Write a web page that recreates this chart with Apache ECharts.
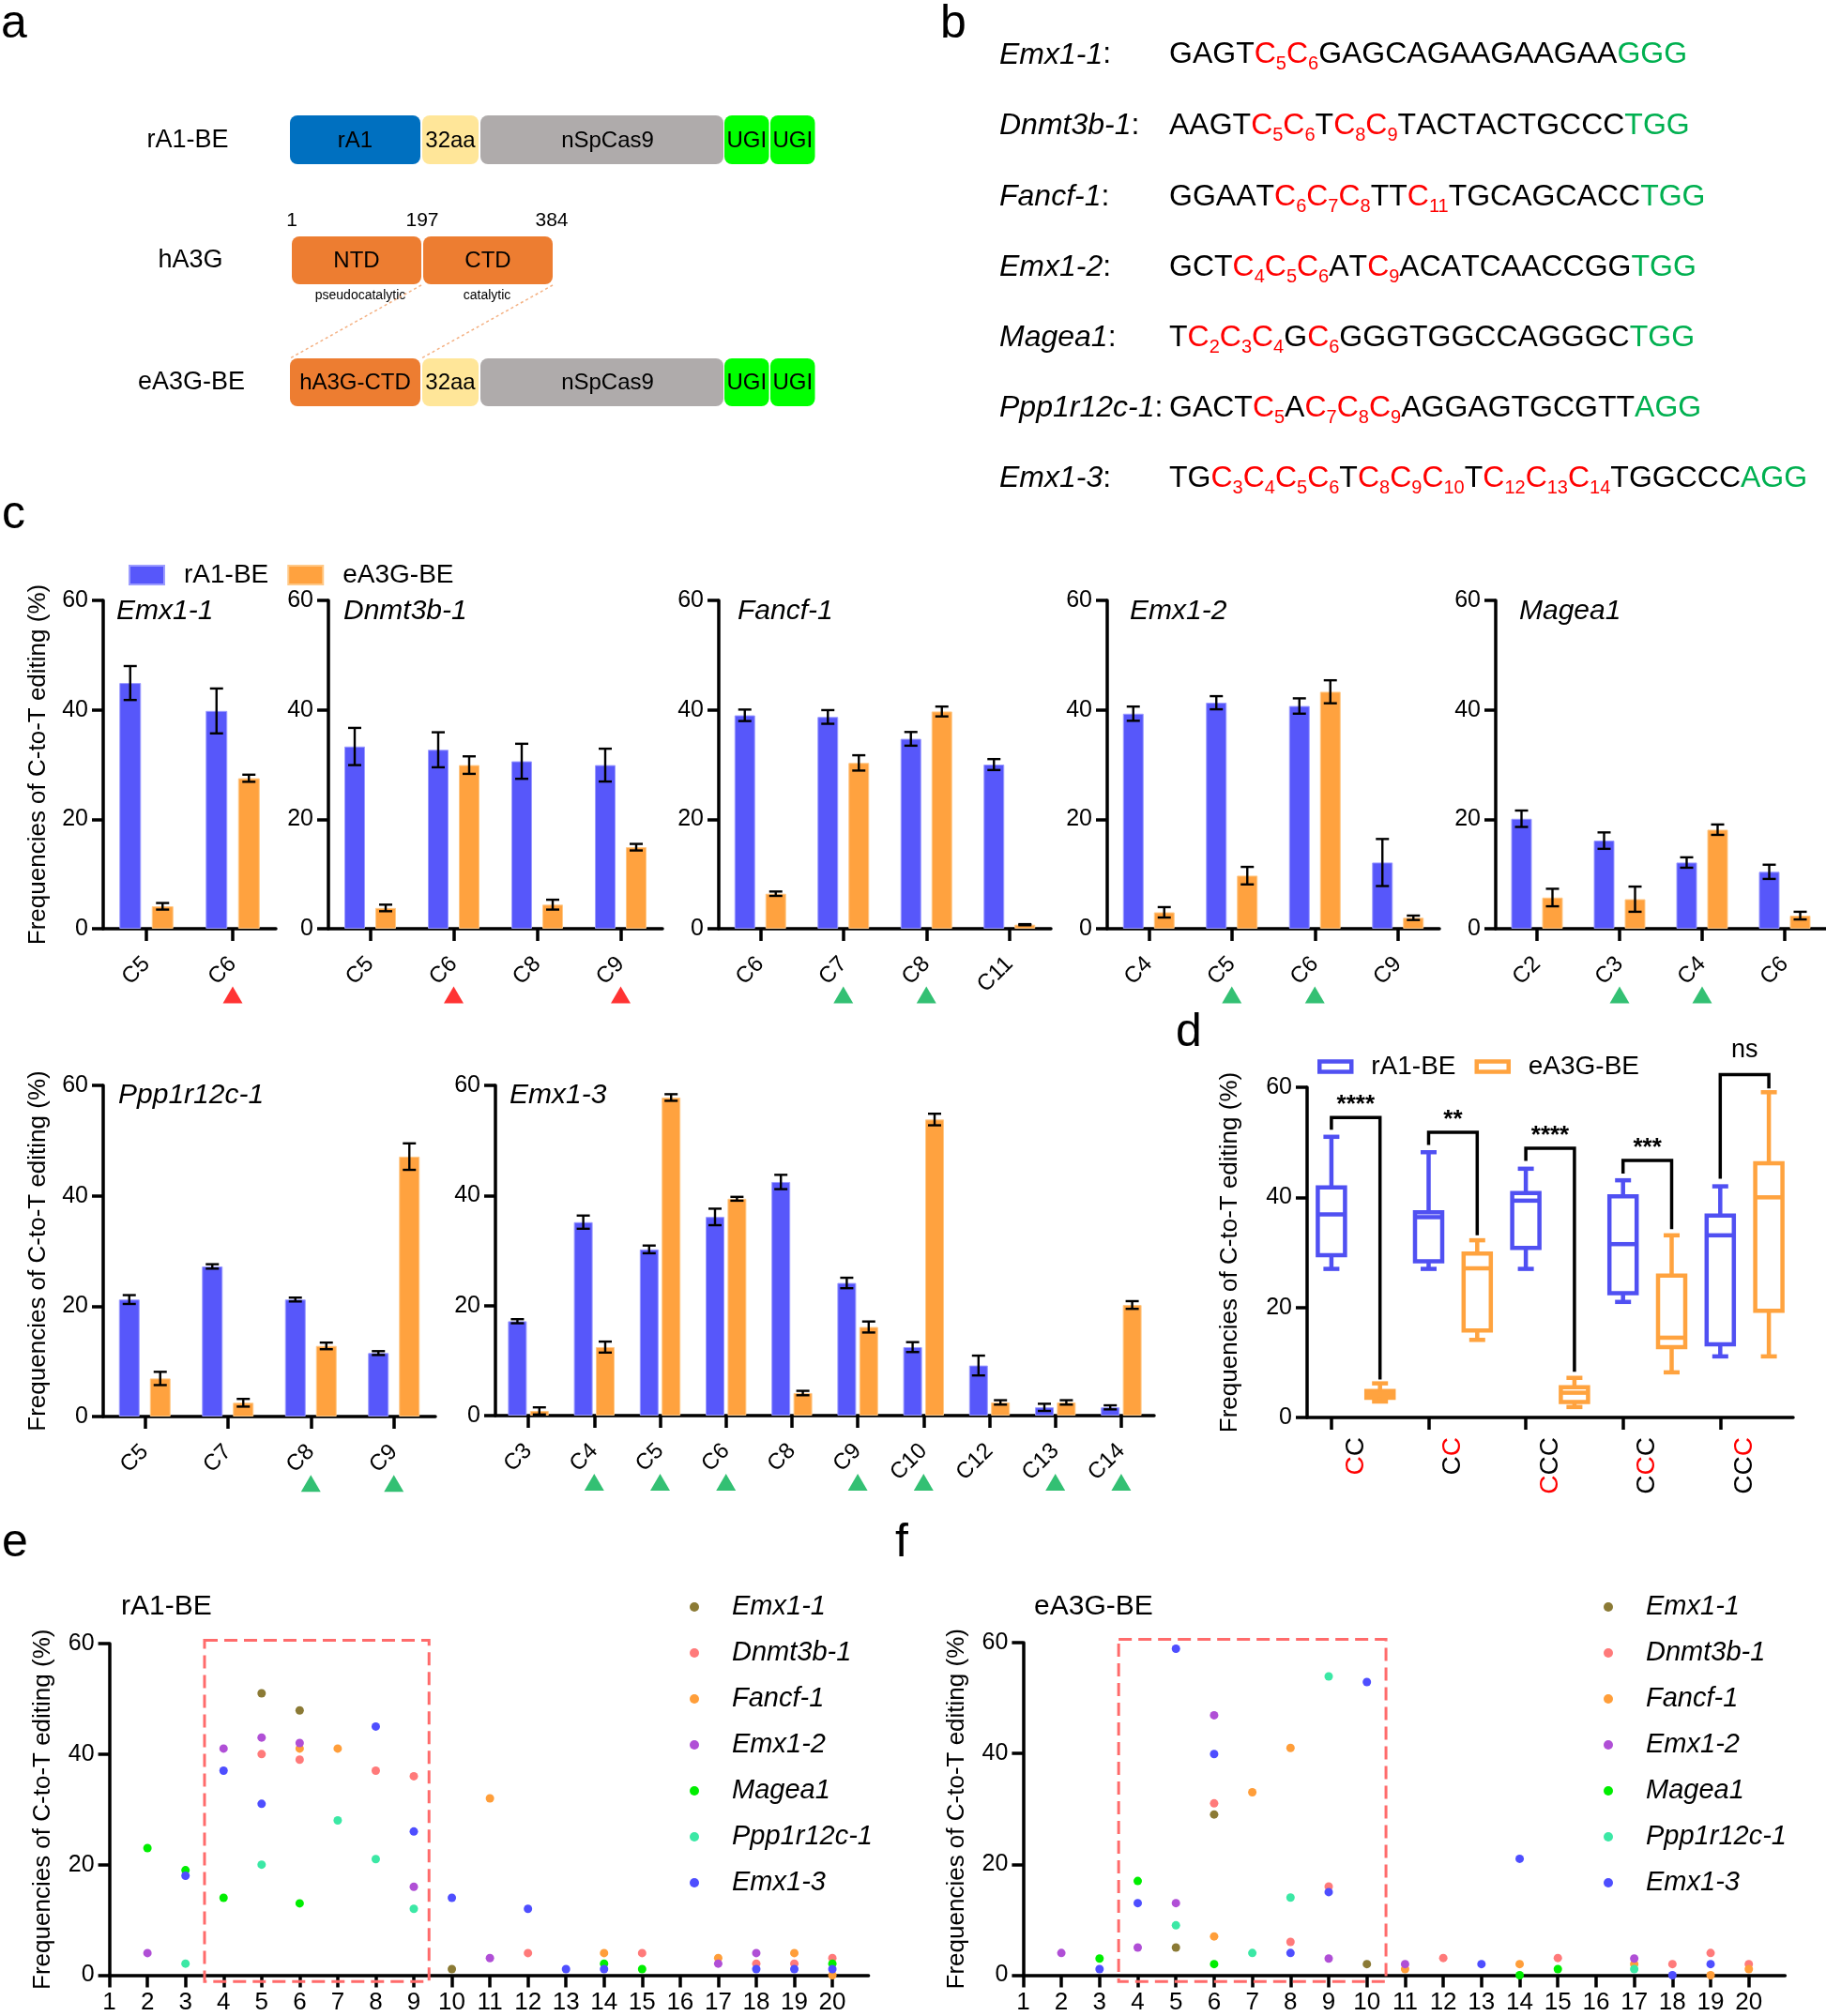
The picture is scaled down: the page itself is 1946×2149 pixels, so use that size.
<!DOCTYPE html>
<html><head><meta charset="utf-8">
<script src="https://cdn.jsdelivr.net/npm/echarts@6/dist/echarts.min.js"></script>
<style>html,body{margin:0;padding:0;background:#fff}#c{width:1946px;height:2149px}</style>
</head><body><div id="c"></div>
<script>
// ================= DATA =================
// panel a (schematic)
const aRowLabels = ['rA1-BE', 'hA3G', 'eA3G-BE'];
const aRow1Parts = ['rA1', '32aa', 'nSpCas9', 'UGI', 'UGI'];
const aRow2Parts = ['NTD', 'CTD'];
const aRow2Sub = ['pseudocatalytic', 'catalytic'];
const aRow2Nums = ['1', '197', '384'];
const aRow3Parts = ['hA3G-CTD', '32aa', 'nSpCas9', 'UGI', 'UGI'];

// panel b (sequences)
const bNames = ['Emx1-1', 'Dnmt3b-1', 'Fancf-1', 'Emx1-2', 'Magea1', 'Ppp1r12c-1', 'Emx1-3'];
const bProto = ['GAGTCCGAGCAGAAGAAGAA', 'AAGTCCTCCTACTACTGCCC', 'GGAATCCCTTCTGCAGCACC', 'GCTCCCATCACATCAACCGG', 'TCCCGCGGGTGGCCAGGGC', 'GACTCACCCAGGAGTGCGTT', 'TGCCCCTCCCTCCCTGGCCC'];
const bPam = ['GGG', 'TGG', 'TGG', 'TGG', 'TGG', 'AGG', 'AGG'];
const bRedPos = [[5, 6], [5, 6, 8, 9], [6, 7, 8, 11], [4, 5, 6, 9], [2, 3, 4, 6], [5, 7, 8, 9], [3, 4, 5, 6, 8, 9, 10, 12, 13, 14]];

// panel c (bar charts, mean and error)
const cSites = ['Emx1-1', 'Dnmt3b-1', 'Fancf-1', 'Emx1-2', 'Magea1', 'Ppp1r12c-1', 'Emx1-3'];
const cats_Emx1_1 = ['C5', 'C6'];
const rA1_Emx1_1 = [44.9, 39.8];           const rA1Err_Emx1_1 = [3.1, 4.1];
const eA3G_Emx1_1 = [4.1, 27.5];           const eA3GErr_Emx1_1 = [0.6, 0.65];
const cats_Dnmt3b_1 = ['C5', 'C6', 'C8', 'C9'];
const rA1_Dnmt3b_1 = [33.3, 32.7, 30.6, 29.9];  const rA1Err_Dnmt3b_1 = [3.4, 3.2, 3.2, 3.0];
const eA3G_Dnmt3b_1 = [3.8, 29.9, 4.4, 14.9];   const eA3GErr_Dnmt3b_1 = [0.6, 1.6, 0.9, 0.6];
const cats_Fancf_1 = ['C6', 'C7', 'C8', 'C11'];
const rA1_Fancf_1 = [39.0, 38.7, 34.7, 30.0];   const rA1Err_Fancf_1 = [1.05, 1.25, 1.25, 1.0];
const eA3G_Fancf_1 = [6.4, 30.3, 39.7, 0.74];   const eA3GErr_Fancf_1 = [0.4, 1.4, 0.9, 0.1];
const cats_Emx1_2 = ['C4', 'C5', 'C6', 'C9'];
const rA1_Emx1_2 = [39.3, 41.3, 40.7, 12.1];    const rA1Err_Emx1_2 = [1.3, 1.2, 1.4, 4.3];
const eA3G_Emx1_2 = [3.0, 9.7, 43.3, 2.0];      const eA3GErr_Emx1_2 = [0.95, 1.6, 2.1, 0.4];
const cats_Magea1 = ['C2', 'C3', 'C4', 'C6'];
const rA1_Magea1 = [20.1, 16.1, 12.1, 10.4];    const rA1Err_Magea1 = [1.5, 1.5, 0.95, 1.3];
const eA3G_Magea1 = [5.7, 5.4, 18.1, 2.4];      const eA3GErr_Magea1 = [1.6, 2.3, 0.95, 0.7];
const cats_Ppp1r12c_1 = ['C5', 'C7', 'C8', 'C9'];
const rA1_Ppp1r12c_1 = [21.2, 27.2, 21.2, 11.5]; const rA1Err_Ppp1r12c_1 = [0.8, 0.4, 0.35, 0.35];
const eA3G_Ppp1r12c_1 = [6.9, 2.5, 12.8, 47.1];  const eA3GErr_Ppp1r12c_1 = [1.2, 0.7, 0.6, 2.4];
const cats_Emx1_3 = ['C3', 'C4', 'C5', 'C6', 'C8', 'C9', 'C10', 'C12', 'C13', 'C14'];
const rA1_Emx1_3 = [17.15, 35.15, 30.2, 36.1, 42.45, 24.1, 12.45, 9.1, 1.5, 1.5];
const rA1Err_Emx1_3 = [0.37, 1.2, 0.7, 1.5, 1.3, 0.95, 0.9, 1.8, 0.65, 0.37];
const eA3G_Emx1_3 = [0.85, 12.45, 57.8, 39.4, 4.1, 16.1, 53.8, 2.4, 2.4, 20.1];
const eA3GErr_Emx1_3 = [0.65, 1.0, 0.6, 0.35, 0.4, 1.0, 1.05, 0.4, 0.4, 0.7];
// arrow-head markers under the categories
const tri_Emx1_1 = ['C6'];
const tri_Dnmt3b_1 = ['C6', 'C9'];
const tri_Fancf_1 = ['C7', 'C8'];
const tri_Emx1_2 = ['C5', 'C6'];
const tri_Magea1 = ['C3', 'C4'];
const tri_Ppp1r12c_1 = ['C8', 'C9'];
const tri_Emx1_3 = ['C4', 'C5', 'C6', 'C9', 'C10', 'C13', 'C14'];
const triKind = ['red', 'red', 'green', 'green', 'green', 'green', 'green'];

// panel d (box plots: min, Q1, median, Q3, max)
const dGroups = ['CC', 'CC', 'CCC', 'CCC', 'CCC'];
const dRedIndex = [0, 1, 0, 1, 2];
const dBox_rA1 = [[27.0, 29.5, 36.9, 41.8, 51.0], [27.0, 28.4, 36.4, 37.3, 48.2], [27.0, 30.8, 39.4, 40.8, 45.2], [21.0, 22.6, 31.5, 40.2, 43.1], [11.1, 13.3, 33.1, 36.7, 42.0]];
const dBox_eA3G = [[2.9, 3.6, 4.3, 4.8, 6.2], [14.1, 15.8, 27.1, 29.8, 32.2], [1.9, 2.8, 4.5, 5.5, 7.2], [8.2, 12.8, 14.5, 25.8, 33.1], [11.1, 19.4, 40.0, 46.2, 59.1]];
const dSigLabels = ['****', '**', '****', '***', 'ns'];
const dSigBracket = [54.5, 51.8, 48.9, 46.7, 62.3];
const dSigLeftEnd = [52.3, 49.5, 46.6, 44.3, 43.4];
const dSigRightEnd = [6.9, 33.1, 8.3, 34.2, 59.8];

// panels e, f (scatter: [position, frequency])
const eSites = ['Emx1-1', 'Dnmt3b-1', 'Fancf-1', 'Emx1-2', 'Magea1', 'Ppp1r12c-1', 'Emx1-3'];
const e_Emx1_1 = [[5, 51.0], [6, 47.9], [10, 1.1]];
const e_Dnmt3b_1 = [[5, 40.0], [6, 39.0], [8, 37.0], [9, 36.0], [12, 4.0], [15, 4.0], [18, 2.1], [19, 2.1], [20, 3.1]];
const e_Fancf_1 = [[6, 41.0], [7, 41.0], [11, 32.0], [14, 4.0], [17, 3.1], [19, 4.0], [20, 0]];
const e_Emx1_2 = [[2, 4.0], [4, 41.0], [5, 43.0], [6, 42.0], [9, 16.0], [11, 3.1], [17, 2.1], [18, 4.0]];
const e_Magea1 = [[2, 23.0], [3, 19.0], [4, 14.0], [6, 13.0], [14, 2.1], [15, 1.1], [20, 2.1]];
const e_Ppp1r12c_1 = [[3, 2.1], [5, 20.0], [7, 28.0], [8, 21.0], [9, 12.0]];
const e_Emx1_3 = [[3, 18.0], [4, 37.0], [5, 31.0], [8, 45.0], [9, 26.0], [10, 14.0], [12, 12.0], [13, 1.1], [14, 1.1], [18, 1.1], [19, 1.1], [20, 1.1]];
const f_Emx1_1 = [[5, 5.0], [6, 29.0], [10, 2.0]];
const f_Dnmt3b_1 = [[6, 31.0], [8, 6.0], [9, 16.0], [12, 3.1], [15, 3.1], [18, 2.0], [19, 4.0], [20, 2.0]];
const f_Fancf_1 = [[6, 7.0], [7, 33.0], [8, 41.0], [11, 1.1], [14, 2.0], [17, 2.0], [19, 0], [20, 1.1]];
const f_Emx1_2 = [[2, 4.0], [4, 5.0], [5, 13.0], [6, 46.9], [9, 3.0], [11, 2.0], [17, 3.0]];
const f_Magea1 = [[3, 3.0], [4, 17.0], [6, 2.0], [14, 0], [15, 1.1]];
const f_Ppp1r12c_1 = [[5, 9.0], [7, 4.0], [8, 14.0], [9, 53.9], [17, 1.1]];
const f_Emx1_3 = [[3, 1.1], [4, 13.0], [5, 58.9], [6, 39.9], [8, 4.0], [9, 15.0], [10, 52.9], [13, 2.0], [14, 21.0], [18, 0], [19, 2.0]];
const eWindow = [3.5, -1.15, 9.4, 60.6];
const fWindow = [3.5, -1.15, 10.5, 60.6];
const posTicks = [1, 2, 3, 4, 5, 6, 7, 8, 9, 10, 11, 12, 13, 14, 15, 16, 17, 18, 19, 20];
const yTitle = 'Frequencies of C-to-T editing (%)';

// ================= STYLE / LAYOUT =================
const FONT = 'Arial, "Liberation Sans", Helvetica, sans-serif';
const BLUE = '#5757FA', ORANGE = '#FFA23F';
const BOXBLUE = '#5050F2', BOXORANGE = '#FFA33F';
const TRI = { red: '#FF0000', green: '#00B050' };
const scatterColors = ['#8B7A35', '#FF7A7A', '#FF9E3A', '#B04FD6', '#00EE00', '#3BE8A5', '#4E4EFF'];
const AX = 3.5;

const cData = [
  [cats_Emx1_1, rA1_Emx1_1, rA1Err_Emx1_1, eA3G_Emx1_1, eA3GErr_Emx1_1, tri_Emx1_1],
  [cats_Dnmt3b_1, rA1_Dnmt3b_1, rA1Err_Dnmt3b_1, eA3G_Dnmt3b_1, eA3GErr_Dnmt3b_1, tri_Dnmt3b_1],
  [cats_Fancf_1, rA1_Fancf_1, rA1Err_Fancf_1, eA3G_Fancf_1, eA3GErr_Fancf_1, tri_Fancf_1],
  [cats_Emx1_2, rA1_Emx1_2, rA1Err_Emx1_2, eA3G_Emx1_2, eA3GErr_Emx1_2, tri_Emx1_2],
  [cats_Magea1, rA1_Magea1, rA1Err_Magea1, eA3G_Magea1, eA3GErr_Magea1, tri_Magea1],
  [cats_Ppp1r12c_1, rA1_Ppp1r12c_1, rA1Err_Ppp1r12c_1, eA3G_Ppp1r12c_1, eA3GErr_Ppp1r12c_1, tri_Ppp1r12c_1],
  [cats_Emx1_3, rA1_Emx1_3, rA1Err_Emx1_3, eA3G_Emx1_3, eA3GErr_Emx1_3, tri_Emx1_3]
];
const cLayout = [
  { left: 110, top: 640, width: 184, height: 350, bw: 23, gap: 11.5, tl: 124, tt: 637 },
  { left: 350, top: 640, width: 356, height: 350, bw: 22, gap: 11, tl: 366, tt: 637 },
  { left: 766, top: 640, width: 354, height: 350, bw: 22, gap: 11, tl: 786, tt: 637 },
  { left: 1180, top: 640, width: 354, height: 350, bw: 22, gap: 11, tl: 1204, tt: 637 },
  { left: 1594, top: 640, width: 352, height: 350, bw: 22, gap: 11, tl: 1619, tt: 637 },
  { left: 110, top: 1157, width: 354, height: 353, bw: 22, gap: 11, tl: 126, tt: 1153 },
  { left: 528, top: 1157, width: 702, height: 352, bw: 20, gap: 3.4, tl: 543, tt: 1153 }
];
const eData = [e_Emx1_1, e_Dnmt3b_1, e_Fancf_1, e_Emx1_2, e_Magea1, e_Ppp1r12c_1, e_Emx1_3];
const fData = [f_Emx1_1, f_Dnmt3b_1, f_Fancf_1, f_Emx1_2, f_Magea1, f_Ppp1r12c_1, f_Emx1_3];

function axisLineStyle() { return { show: true, lineStyle: { color: '#000', width: AX } }; }
function tickStyle(len) { return { show: true, length: len, lineStyle: { color: '#000', width: AX } }; }
function valueY(gridIndex, name, nameGap) {
  return {
    type: 'value', gridIndex, min: 0, max: 60, interval: 20,
    splitLine: { show: false }, axisLine: axisLineStyle(), axisTick: tickStyle(12),
    axisLabel: { fontSize: 25, color: '#000', margin: 16, fontFamily: FONT },
    name: name || '', nameLocation: 'middle', nameGap: nameGap || 0,
    nameTextStyle: { fontSize: 26, color: '#000', fontFamily: FONT }
  };
}

function errRender(sign, bw, gap) {
  return function (params, api) {
    const ci = api.value(0), v = api.value(1), e = api.value(2);
    const top = api.coord([ci, v + e]), bot = api.coord([ci, Math.max(0, v - e)]);
    const x = top[0] + sign * (bw / 2 + gap / 2);
    const cap = 14, st = { stroke: '#000', lineWidth: 2.4 };
    return { type: 'group', children: [
      { type: 'line', shape: { x1: x, y1: top[1], x2: x, y2: bot[1] }, style: st },
      { type: 'line', shape: { x1: x - cap / 2, y1: top[1], x2: x + cap / 2, y2: top[1] }, style: st },
      { type: 'line', shape: { x1: x - cap / 2, y1: bot[1], x2: x + cap / 2, y2: bot[1] }, style: st }
    ] };
  };
}

const grids = [], xAxes = [], yAxes = [], series = [], titles = [];

cData.forEach((d, i) => {
  const L = cLayout[i];
  const [cats, rA1, rA1Err, eA3G, eA3GErr, tri] = d;
  grids.push({ left: L.left, top: L.top, width: L.width, height: L.height, containLabel: false, outerBoundsMode: 'none' });
  xAxes.push({
    type: 'category', gridIndex: i, data: cats, axisLine: axisLineStyle(),
    axisTick: Object.assign(tickStyle(13), { alignWithLabel: true }),
    axisLabel: { rotate: 45, fontSize: 24, color: '#000', margin: 34, interval: 0, fontFamily: FONT }
  });
  yAxes.push(valueY(i, (i === 0 || i === 5) ? yTitle : '', 56));
  titles.push({ text: cSites[i], left: L.tl, top: L.tt, padding: 0,
    textStyle: { fontSize: 30, fontStyle: 'italic', fontWeight: 'normal', color: '#000', fontFamily: FONT } });
  const bg = (L.gap / L.bw * 100) + '%';
  series.push({ type: 'bar', name: 'rA1-BE', xAxisIndex: i, yAxisIndex: i, data: rA1, barWidth: L.bw, barGap: bg, itemStyle: { color: BLUE, borderColor: '#9C9CFF', borderWidth: 1 }, z: 2 });
  series.push({ type: 'bar', name: 'eA3G-BE', xAxisIndex: i, yAxisIndex: i, data: eA3G, barWidth: L.bw, barGap: bg, itemStyle: { color: ORANGE, borderColor: '#FFC988', borderWidth: 1 }, z: 2 });
  series.push({ type: 'custom', xAxisIndex: i, yAxisIndex: i, z: 4, silent: true,
    data: rA1.map((v, k) => [k, v, rA1Err[k]]), renderItem: errRender(-1, L.bw, L.gap) });
  series.push({ type: 'custom', xAxisIndex: i, yAxisIndex: i, z: 4, silent: true,
    data: eA3G.map((v, k) => [k, v, eA3GErr[k]]), renderItem: errRender(1, L.bw, L.gap) });
  series.push({ type: 'scatter', xAxisIndex: i, yAxisIndex: i, silent: true, clip: false,
    symbol: 'triangle', symbolSize: [21, 18], itemStyle: { color: TRI[triKind[i]] },
    data: tri.map(c => [c, -12.1]) });
});

// ---- panel d ----
const dG = 7;
grids.push({ left: 1393, top: 1159, width: 518, height: 352, containLabel: false, outerBoundsMode: 'none' });
const dCats10 = [];
dGroups.forEach((g, k) => { dCats10.push(g + '_rA1_' + k); dCats10.push(g + '_eA3G_' + k); });
xAxes.push({ type: 'category', gridIndex: dG, data: dCats10, axisLine: axisLineStyle(),
  axisTick: Object.assign(tickStyle(13), { alignWithLabel: true }), axisLabel: { show: false } });
xAxes.push({ type: 'category', gridIndex: dG, data: dGroups, position: 'bottom',
  axisLine: { show: false }, axisTick: { show: false },
  axisLabel: {
    rotate: 90, margin: 21, interval: 0,
    formatter: function (val, idx) {
      let s = '';
      for (let k = 0; k < dGroups[idx].length; k++) s += (k === dRedIndex[idx] ? '{r|C}' : '{k|C}');
      return s;
    },
    rich: { r: { color: '#FF0000', fontSize: 28, fontFamily: FONT }, k: { color: '#000', fontSize: 28, fontFamily: FONT } }
  } });
yAxes.push(valueY(dG, yTitle, 69));
function boxRender(params, api) {
  const ci = api.value(0);
  const p = [1, 2, 3, 4, 5].map(k => api.coord([ci, api.value(k)]));
  const x = p[0][0], w = 29, cw = 17;
  const st = { stroke: api.visual('color'), lineWidth: 4.5, fill: 'none' };
  return { type: 'group', children: [
    { type: 'rect', shape: { x: x - w / 2, y: p[3][1], width: w, height: p[1][1] - p[3][1] }, style: st },
    { type: 'line', shape: { x1: x - w / 2, y1: p[2][1], x2: x + w / 2, y2: p[2][1] }, style: st },
    { type: 'line', shape: { x1: x, y1: p[3][1], x2: x, y2: p[4][1] }, style: st },
    { type: 'line', shape: { x1: x, y1: p[1][1], x2: x, y2: p[0][1] }, style: st },
    { type: 'line', shape: { x1: x - cw / 2, y1: p[4][1], x2: x + cw / 2, y2: p[4][1] }, style: st },
    { type: 'line', shape: { x1: x - cw / 2, y1: p[0][1], x2: x + cw / 2, y2: p[0][1] }, style: st }
  ] };
}
series.push({ type: 'custom', name: 'rA1-BE', xAxisIndex: 7, yAxisIndex: dG, itemStyle: { color: BOXBLUE },
  encode: { x: 0, y: [1, 2, 3, 4, 5] }, data: dBox_rA1.map((b, g) => [2 * g].concat(b)), renderItem: boxRender, clip: false });
series.push({ type: 'custom', name: 'eA3G-BE', xAxisIndex: 7, yAxisIndex: dG, itemStyle: { color: BOXORANGE },
  encode: { x: 0, y: [1, 2, 3, 4, 5] }, data: dBox_eA3G.map((b, g) => [2 * g + 1].concat(b)), renderItem: boxRender, clip: false });
series.push({ type: 'custom', xAxisIndex: 7, yAxisIndex: dG, clip: false, silent: true, z: 5,
  data: dSigLabels.map((l, g) => [g, dSigBracket[g], dSigLeftEnd[g], dSigRightEnd[g]]),
  renderItem: function (params, api) {
    const g = api.value(0);
    const xl = api.coord([2 * g, 0])[0], xr = api.coord([2 * g + 1, 0])[0];
    const yb = api.coord([2 * g, api.value(1)])[1];
    const yl = api.coord([2 * g, api.value(2)])[1];
    const yr = api.coord([2 * g + 1, api.value(3)])[1];
    const lab = dSigLabels[g], ns = lab === 'ns';
    return { type: 'group', children: [
      { type: 'polyline', shape: { points: [[xl, yl], [xl, yb], [xr, yb], [xr, yr]] }, style: { stroke: '#000', lineWidth: 3.5, fill: 'none' } },
      { type: 'text', style: { text: lab, x: (xl + xr) / 2, y: yb - (ns ? 26 : 13), align: 'center', verticalAlign: 'middle',
        textAlign: 'center', textVerticalAlign: 'middle', fontSize: ns ? 27 : 26, fontWeight: ns ? 'normal' : 'bold', fontFamily: FONT, fill: '#000' } }
    ] };
  } });

// ---- panels e, f ----
function windowRender(params, api) {
  const a = api.coord([api.value(0), api.value(1)]), b = api.coord([api.value(2), api.value(3)]);
  return { type: 'rect', shape: { x: a[0], y: b[1], width: b[0] - a[0], height: a[1] - b[1] },
    style: { fill: 'none', stroke: '#FF6B6B', lineWidth: 3, lineDash: [14, 7] } };
}
[[116.6, 1752, 809, 353.5, eData, eWindow], [1090.4, 1751, 812, 354.5, fData, fWindow]].forEach((P, j) => {
  const gi = 8 + j, xi = 9 + j, yi = 8 + j;
  grids.push({ left: P[0], top: P[1], width: P[2], height: P[3], containLabel: false, outerBoundsMode: 'none' });
  xAxes.push({ type: 'value', gridIndex: gi, min: 1, max: 20.95, interval: 1, splitLine: { show: false },
    axisLine: axisLineStyle(), axisTick: Object.assign(tickStyle(13), { customValues: posTicks }),
    axisLabel: { customValues: posTicks, fontSize: 26, color: '#000', margin: 16, fontFamily: FONT } });
  yAxes.push(valueY(gi, yTitle, 58));
  P[4].forEach((pts, k) => {
    series.push({ type: 'scatter', name: eSites[k], xAxisIndex: xi, yAxisIndex: yi, data: pts,
      symbolSize: 9, itemStyle: { color: scatterColors[k], opacity: 1 }, clip: false, z: 3 });
  });
  series.push({ type: 'custom', xAxisIndex: xi, yAxisIndex: yi, clip: false, silent: true, z: 2,
    data: [P[5]], renderItem: windowRender });
});
titles.push({ text: 'rA1-BE', left: 129, top: 1698, padding: 0, textStyle: { fontSize: 30, fontWeight: 'normal', color: '#000', fontFamily: FONT } });
titles.push({ text: 'eA3G-BE', left: 1102, top: 1698, padding: 0, textStyle: { fontSize: 30, fontWeight: 'normal', color: '#000', fontFamily: FONT } });

// ---- legends ----
const legends = [
  { left: 132, top: 594, orient: 'horizontal', itemWidth: 37, itemHeight: 20, itemGap: 20, icon: 'rect',
    textStyle: { fontSize: 28, color: '#000', fontFamily: FONT, padding: [0, 0, 0, 16] }, selectedMode: false,
    data: [{ name: 'rA1-BE', itemStyle: { color: BLUE } }, { name: 'eA3G-BE', itemStyle: { color: ORANGE } }] },
  { left: 1399, top: 1118, orient: 'horizontal', itemWidth: 34, itemHeight: 11, itemGap: 20, icon: 'rect',
    textStyle: { fontSize: 28, color: '#000', fontFamily: FONT, padding: [0, 0, 0, 16] }, selectedMode: false,
    data: [{ name: 'rA1-BE', itemStyle: { color: 'rgba(0,0,0,0)', borderColor: BOXBLUE, borderWidth: 4.5 } },
           { name: 'eA3G-BE', itemStyle: { color: 'rgba(0,0,0,0)', borderColor: BOXORANGE, borderWidth: 4.5 } }] },
  { left: 730, top: 1693, orient: 'vertical', itemWidth: 70, itemHeight: 10, itemGap: 19, icon: 'circle', selectedMode: false,
    textStyle: { fontSize: 29, lineHeight: 30, fontStyle: 'italic', color: '#000', fontFamily: FONT }, data: eSites.slice() },
  { left: 1704, top: 1693, orient: 'vertical', itemWidth: 70, itemHeight: 10, itemGap: 19, icon: 'circle', selectedMode: false,
    textStyle: { fontSize: 29, lineHeight: 30, fontStyle: 'italic', color: '#000', fontFamily: FONT }, data: eSites.slice() }
];

// ---- graphic: panel a, panel b, panel letters ----
const G = [];
function gtext(text, x, y, size, opts) {
  opts = opts || {};
  G.push({ type: 'text', x: x, y: y, silent: true, style: Object.assign({
    text: text, fontSize: size, fontFamily: FONT, fill: '#000',
    align: opts.align || 'center', verticalAlign: opts.va || 'middle',
    textAlign: opts.align || 'center', textVerticalAlign: opts.va || 'middle'
  }, opts.style || {}) });
}
function grect(x, y, w, h, fill) {
  G.push({ type: 'rect', silent: true, shape: { x: x, y: y, width: w, height: h, r: 8 }, style: { fill: fill } });
}
const aX = [309, 450, 512, 772, 821], aW = [139, 60, 259, 47.5, 47.5];
const aFill1 = ['#0070C0', '#FFE699', '#AFABAB', '#00FF00', '#00FF00'];
const aFill3 = ['#ED7D31', '#FFE699', '#AFABAB', '#00FF00', '#00FF00'];
aRow1Parts.forEach((t, k) => { grect(aX[k], 123, aW[k], 52, aFill1[k]); gtext(t, aX[k] + aW[k] / 2 + (k === 2 ? 6 : 0), 150, 24); });
aRow3Parts.forEach((t, k) => { grect(aX[k], 382, aW[k], 51, aFill3[k]); gtext(t, aX[k] + aW[k] / 2 + (k === 2 ? 6 : 0), 408, 24); });
const a2X = [311, 451];
aRow2Parts.forEach((t, k) => { grect(a2X[k], 252, 138, 51, '#ED7D31'); gtext(t, a2X[k] + 69, 278, 24); });
aRow2Sub.forEach((t, k) => gtext(t, [384, 519][k], 315, 14));
aRow2Nums.forEach((t, k) => gtext(t, [311, 450, 588][k], 235, 21));
aRowLabels.forEach((t, k) => gtext(t, [200, 203, 204][k], [150, 278, 408][k], 27));
G.push({ type: 'line', silent: true, shape: { x1: 449, y1: 304, x2: 309, y2: 382 }, style: { stroke: '#F4B183', lineWidth: 1.5, lineDash: [3, 3] } });
G.push({ type: 'line', silent: true, shape: { x1: 589, y1: 304, x2: 449, y2: 382 }, style: { stroke: '#F4B183', lineWidth: 1.5, lineDash: [3, 3] } });

// panel b
const bRowY = [58.6, 134.5, 210.3, 285.5, 360.3, 435.2, 510.3];
const richB = {
  n: { fontSize: 32, fontStyle: 'italic', fill: '#000', color: '#000', fontFamily: FONT, lineHeight: 40 },
  k: { fontSize: 32, fill: '#000', color: '#000', fontFamily: FONT, lineHeight: 40 },
  r: { fontSize: 32, fill: '#FF0000', color: '#FF0000', fontFamily: FONT, lineHeight: 40 },
  s: { fontSize: 20, fill: '#FF0000', color: '#FF0000', fontFamily: FONT, lineHeight: 20, verticalAlign: 'bottom' },
  g: { fontSize: 32, fill: '#00B050', color: '#00B050', fontFamily: FONT, lineHeight: 40 }
};
bNames.forEach((nm, i) => {
  let s = '';
  const p = bProto[i];
  for (let k = 0; k < p.length; k++) {
    const pos = k + 1;
    if (bRedPos[i].indexOf(pos) >= 0) s += '{r|' + p[k] + '}{s|' + pos + '}';
    else s += '{k|' + p[k] + '}';
  }
  s += '{g|' + bPam[i] + '}';
  G.push({ type: 'text', x: 1065, y: bRowY[i], silent: true, style: { text: '{n|' + nm + '}{k|:}', rich: richB,
    align: 'left', verticalAlign: 'middle', textAlign: 'left', textVerticalAlign: 'middle', fontFamily: FONT, fontSize: 32 } });
  G.push({ type: 'text', x: 1246, y: bRowY[i], silent: true, style: { text: s, rich: richB,
    align: 'left', verticalAlign: 'middle', textAlign: 'left', textVerticalAlign: 'middle', fontFamily: FONT, fontSize: 32 } });
});

// panel letters
[['a', 1, 51], ['b', 1002, 51], ['c', 2, 574], ['d', 1253, 1126], ['e', 2, 1670], ['f', 954, 1670]].forEach(L => {
  gtext(L[0], L[1], L[2], 50, { align: 'left', va: 'bottom' });
});

const chart = echarts.init(document.getElementById('c'), null, { renderer: 'canvas', width: 1946, height: 2149 });
chart.setOption({
  animation: false,
  backgroundColor: '#fff',
  textStyle: { fontFamily: FONT },
  title: titles,
  legend: legends,
  grid: grids,
  xAxis: xAxes,
  yAxis: yAxes,
  series: series,
  graphic: { elements: G }
});
</script>
</body></html>
